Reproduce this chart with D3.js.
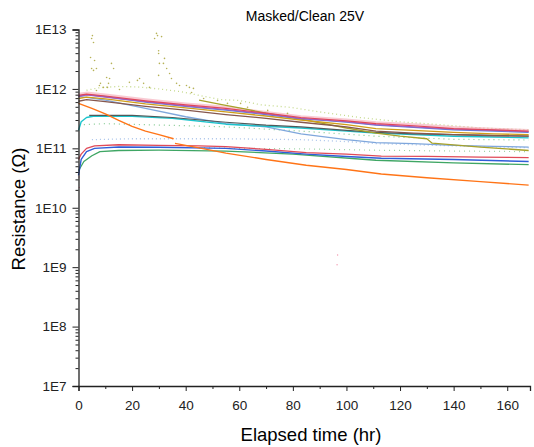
<!DOCTYPE html>
<html lang="en">
<head>
<meta charset="UTF-8">
<title>Masked/Clean 25V</title>
<script src="https://d3js.org/d3.v7.min.js"></script>
<style>
  body { margin: 0; background: #fff; font-family: "Liberation Sans", Arial, sans-serif; }
  .axis path, .axis line { stroke: #222; }
  .axis text { font-family: "Liberation Sans", Arial, sans-serif; font-size: 13.5px; fill: #222; }
</style>
</head>
<body>
<script>
// ---- data (hours, ohms) ----
const decadeLabels = ["1E7", "1E8", "1E9", "1E10", "1E11", "1E12", "1E13"];
const xTicks = [0, 20, 40, 60, 80, 100, 120, 140, 160];

// upper group, all share these times
const tTop = [0, 3, 10, 25, 40, 55, 70, 83, 100, 111, 125, 140, 155, 168];
const pinkTop   = [8.1e11, 8.5e11, 7.9e11, 6.6e11, 5.6e11, 4.9e11, 4.0e11, 3.4e11, 3.0e11, 2.7e11, 2.5e11, 2.25e11, 2.1e11, 2.0e11];
const redTop    = [7.8e11, 8.2e11, 7.6e11, 6.3e11, 5.4e11, 4.7e11, 3.9e11, 3.3e11, 2.9e11, 2.6e11, 2.4e11, 2.15e11, 2.05e11, 1.95e11];
const purpleTop = [7.4e11, 7.9e11, 7.3e11, 6.1e11, 5.2e11, 4.5e11, 3.8e11, 3.2e11, 2.8e11, 2.5e11, 2.3e11, 2.1e11, 2.0e11, 1.9e11];
const blueTop   = [7.6e11, 8.0e11, 7.4e11, 6.0e11, 5.1e11, 4.4e11, 3.7e11, 3.15e11, 2.75e11, 2.45e11, 2.25e11, 2.05e11, 1.95e11, 1.85e11];
const goldTop   = [6.9e11, 7.3e11, 6.8e11, 5.6e11, 4.8e11, 4.1e11, 3.5e11, 3.0e11, 2.5e11, 2.15e11, 2.0e11, 1.85e11, 1.75e11, 1.7e11];
const brownTop  = [6.2e11, 6.6e11, 6.1e11, 5.1e11, 4.4e11, 3.7e11, 3.2e11, 2.75e11, 2.3e11, 1.95e11, 1.8e11, 1.7e11, 1.63e11, 1.6e11];
const lightBlue = [7.4e11, 7.2e11, 6.5e11, 4.7e11, 3.4e11, 2.6e11, 2.3e11, 1.75e11, 1.4e11, 1.25e11, 1.2e11, 1.12e11, 1.08e11, 1.05e11];

const tCyan = [0, 1, 3, 6, 20, 35, 55, 70, 83, 100, 111, 125, 140, 155, 168];
const cyan  = [2.0e11, 2.8e11, 3.3e11, 3.5e11, 3.45e11, 3.2e11, 2.55e11, 2.35e11, 2.2e11, 1.95e11, 1.8e11, 1.7e11, 1.6e11, 1.55e11, 1.5e11];

const tGray = [4, 20, 35, 55, 70, 83, 100, 111, 125, 140, 155, 168];
const gray  = [3.6e11, 3.6e11, 3.3e11, 2.75e11, 2.45e11, 2.3e11, 2.0e11, 1.85e11, 1.75e11, 1.7e11, 1.65e11, 1.6e11];

const tOlive = [45, 53, 62, 70, 83, 100, 111, 120, 130, 132, 150, 168];
const olive  = [6.5e11, 5.5e11, 4.6e11, 3.9e11, 3.1e11, 2.2e11, 1.8e11, 1.6e11, 1.45e11, 1.22e11, 1.05e11, 9.2e10];

const tYg = [3, 8, 15, 22, 30, 38, 45, 53, 60, 68, 79, 90, 105, 120, 135, 150, 168];
const ygDots = [9.5e11, 1.05e12, 1.1e12, 1.08e12, 1.0e12, 9.0e11, 7.8e11, 6.6e11, 6.4e11, 5.4e11, 4.9e11, 4.1e11, 3.3e11, 2.8e11, 2.5e11, 2.2e11, 2.05e11];

const tGreenA = [2, 10, 25, 40, 55, 83, 111, 140, 168];
const greenA  = [2.5e11, 2.6e11, 2.5e11, 2.4e11, 2.3e11, 1.95e11, 1.6e11, 1.42e11, 1.38e11];

const tGreenB = [45, 60, 83, 111, 140, 168];
const greenB  = [1.02e11, 1.0e11, 9.8e10, 9.3e10, 9.0e10, 8.8e10];

const tBlueDots = [5, 20, 40, 55, 83, 100, 111, 140, 168];
const blueDots  = [1.4e11, 1.45e11, 1.45e11, 1.45e11, 1.4e11, 1.3e11, 1.2e11, 1.1e11, 1.02e11];

// lower group
const tRedLow = [0, 1, 3, 6, 15, 30, 45, 55, 70, 85, 100, 113, 130, 150, 168];
const redLow  = [6.5e10, 8.0e10, 1.0e11, 1.1e11, 1.15e11, 1.12e11, 1.1e11, 1.07e11, 9.6e10, 8.5e10, 8.0e10, 7.4e10, 7.3e10, 7.1e10, 7.0e10];
const tBlueLow = [0, 1, 3, 6, 15, 30, 55, 70, 85, 100, 113, 140, 168];
const blueLow  = [3.5e10, 6.5e10, 8.8e10, 1.0e11, 1.05e11, 1.04e11, 1.0e11, 9.0e10, 8.0e10, 7.3e10, 6.8e10, 6.5e10, 6.0e10];
const tGreenLow = [0, 2, 5, 8, 15, 30, 55, 80, 111, 140, 168];
const greenLow  = [4.2e10, 6.0e10, 7.5e10, 8.8e10, 9.2e10, 9.3e10, 9.0e10, 8.0e10, 6.3e10, 5.7e10, 5.3e10];

// orange, logged in two pieces
const tOrange1 = [0, 5, 10, 15, 20, 25, 30, 35.5];
const orange1  = [5.7e11, 4.7e11, 3.8e11, 2.95e11, 2.35e11, 1.95e11, 1.7e11, 1.45e11];
const tOrange2 = [36, 44, 55, 70, 85, 100, 113, 130, 150, 168];
const orange2  = [1.21e11, 1.04e11, 8.3e10, 6.5e10, 5.2e10, 4.4e10, 3.7e10, 3.2e10, 2.75e10, 2.4e10];

// scattered early readings of one olive sample
const scatterT = [4.9, 5.6, 4.5, 6.0, 5.2, 4.9, 6.7, 5.6, 12.3, 13.1, 10.5, 11.6, 11.2, 7.8, 9.3, 6.7, 8.2, 10.8,
                  29.1, 28.4, 31.0, 29.5, 29.9, 29.9, 32.1, 30.2, 31.7, 32.9, 29.9, 34.0, 34.7, 36.6, 37.7, 40.3,
                  41.4, 42.9, 42.2, 46.7, 51.9, 55.6, 60.5, 63.1, 70.6, 78.0, 22.8, 19.0, 24.3, 26.5, 15.3, 22.0];
const scatterR = [7.06e12, 6.05e12, 3.38e12, 3.01e12, 7.9e12, 2.21e12, 2.21e12, 2.05e12, 2.69e12, 2.21e12, 1.56e12, 1.5e12, 1.24e12, 1.14e12, 1.06e12, 9.4e11, 1.24e12, 1.06e12,
                  8.6e12, 7.06e12, 7.6e12, 7.9e12, 4.4e12, 3.95e12, 3.26e12, 2.69e12, 2.69e12, 2.21e12, 1.69e12, 1.82e12, 1.5e12, 1.24e12, 1.14e12, 1.14e12,
                  1.06e12, 1.02e12, 8.7e11, 6.9e11, 6.4e11, 5.7e11, 5.7e11, 4.9e11, 4.35e11, 3.87e11, 1.5e12, 1.29e12, 1.24e12, 1.06e12, 9.8e11, 1.39e12];

// stray points
const strayT = [96.7, 96.5, 0.2, 0.3];
const strayR = [1.6e9, 1.1e9, 3.3e10, 2.2e10];

// ---- layout ----
const W = 534, H = 447;
const x = d3.scaleLinear().domain([0, 168.5]).range([78.5, 530]);
const y = d3.scaleLog().domain([1e7, 1e13]).range([386, 29.5]);

const svg = d3.select("body").append("svg")
    .attr("width", W)
    .attr("height", H);

const line = d3.line()
    .x(d => x(d[0]))
    .y(d => y(d[1]));

const zip = (t, v) => t.map((d, i) => [d, v[i]]);

const series = [
    { t: tYg, v: ygDots, color: "#c4d98a", width: 1.3, dash: "1,3" },
    { t: tGreenA, v: greenA, color: "#82c98f", width: 1.2, dash: "1,4" },
    { t: tGreenB, v: greenB, color: "#9bd3a3", width: 1.2, dash: "1,4" },
    { t: tBlueDots, v: blueDots, color: "#a9c3ea", width: 1.3, dash: "1,3" },
    { t: tTop, v: pinkTop, color: "#f4a6b6", width: 3, opacity: 0.6 },
    { t: tTop, v: lightBlue, color: "#7fa7dc", width: 1.3 },
    { t: tCyan, v: cyan, color: "#1cc4cc", width: 1.4 },
    { t: tGray, v: gray, color: "#505a5a", width: 1.2 },
    { t: tOlive, v: olive, color: "#a8a229", width: 1.3 },
    { t: tTop, v: brownTop, color: "#86574d", width: 1.3 },
    { t: tTop, v: goldTop, color: "#d19e1a", width: 1.3 },
    { t: tTop, v: blueTop, color: "#5b7fd8", width: 1.2 },
    { t: tTop, v: purpleTop, color: "#a05cc0", width: 1.2 },
    { t: tTop, v: redTop, color: "#e0465a", width: 1.2 },
    { t: tGreenLow, v: greenLow, color: "#3fa664", width: 1.3 },
    { t: tBlueLow, v: blueLow, color: "#2f5ed8", width: 1.4 },
    { t: tRedLow, v: redLow, color: "#e04a58", width: 1.3 },
    { t: tOrange1, v: orange1, color: "#ff7417", width: 1.4 },
    { t: tOrange2, v: orange2, color: "#ff7417", width: 1.4 }
];

const plot = svg.append("g");

plot.selectAll("path.series")
    .data(series)
    .join("path")
    .attr("class", "series")
    .attr("fill", "none")
    .attr("stroke", d => d.color)
    .attr("stroke-width", d => d.width)
    .attr("stroke-opacity", d => d.opacity || 1)
    .attr("stroke-dasharray", d => d.dash || null)
    .attr("stroke-linejoin", "round")
    .attr("d", d => line(zip(d.t, d.v)));

// olive scatter
plot.selectAll("circle.scatter")
    .data(zip(scatterT, scatterR))
    .join("circle")
    .attr("class", "scatter")
    .attr("cx", d => x(d[0]))
    .attr("cy", d => y(d[1]))
    .attr("r", 0.8)
    .attr("fill", "#a9a43a")
    .attr("opacity", 0.85);

plot.selectAll("circle.stray")
    .data(zip(strayT, strayR))
    .join("circle")
    .attr("class", "stray")
    .attr("cx", d => x(d[0]))
    .attr("cy", d => y(d[1]))
    .attr("r", 0.7)
    .attr("fill", "#f29ab0");

// ---- axes ----
const decades = d3.range(7, 14).map(e => Math.pow(10, e));
const yMinor = [];
decades.slice(0, -1).forEach(d => { for (let k = 2; k < 10; k++) yMinor.push(d * k); });

const yAxis = svg.append("g")
    .attr("class", "axis")
    .attr("transform", `translate(${x(0)},0)`)
    .call(d3.axisLeft(y).tickValues(decades).tickSize(6).tickPadding(6)
        .tickFormat((d, i) => decadeLabels[i]));
yAxis.select(".domain").attr("stroke-width", 1.3);

svg.append("g")
    .attr("class", "axis")
    .attr("transform", `translate(${x(0)},0)`)
    .call(d3.axisLeft(y).tickValues(yMinor).tickSize(3).tickFormat(""))
    .select(".domain").remove();

const xAxis = svg.append("g")
    .attr("class", "axis")
    .attr("transform", `translate(0,${y(1e7)})`)
    .call(d3.axisBottom(x).tickValues(xTicks).tickSize(5).tickPadding(9));
xAxis.select(".domain").attr("stroke-width", 1.3);

svg.append("g")
    .attr("class", "axis")
    .attr("transform", `translate(0,${y(1e7)})`)
    .call(d3.axisBottom(x).tickValues(d3.range(10, 168, 20)).tickSize(3).tickFormat(""))
    .select(".domain").remove();

// ---- titles ----
svg.append("text")
    .attr("x", 305)
    .attr("y", 21)
    .attr("text-anchor", "middle")
    .style("font-size", "14px")
    .text("Masked/Clean 25V");

svg.append("text")
    .attr("x", 311)
    .attr("y", 441)
    .attr("text-anchor", "middle")
    .style("font-size", "18.5px")
    .text("Elapsed time (hr)");

svg.append("text")
    .attr("transform", "translate(25,209) rotate(-90)")
    .attr("text-anchor", "middle")
    .style("font-size", "18.5px")
    .text("Resistance (\u03A9)");
</script>
</body>
</html>
